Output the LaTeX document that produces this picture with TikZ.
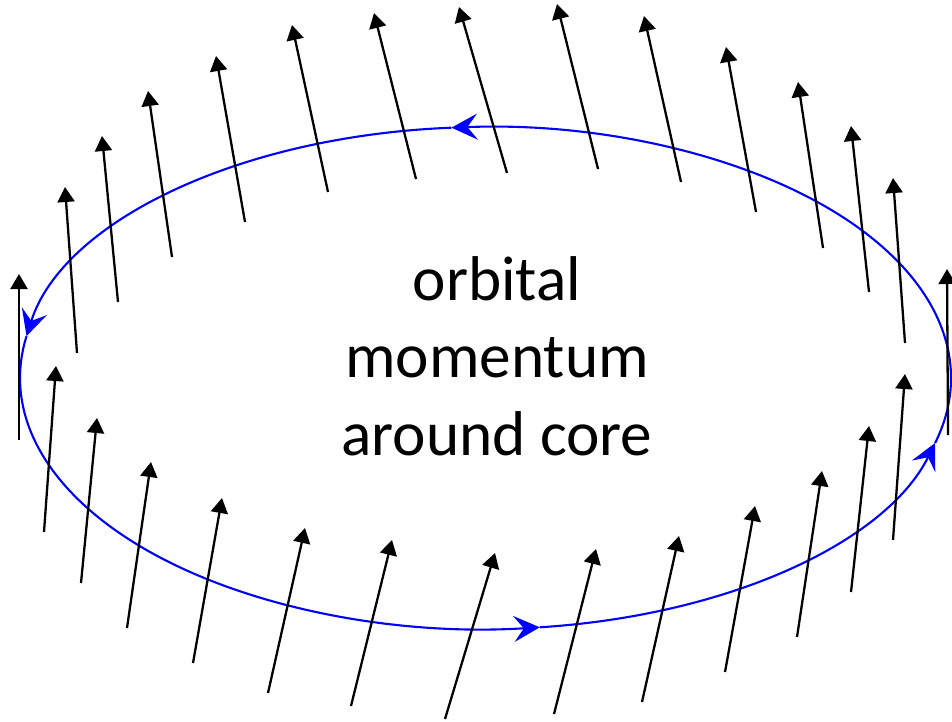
\documentclass[tikz,border=0pt]{standalone}
\usepackage{fontspec}
\setmainfont{Carlito}
\usetikzlibrary{arrows.meta}
\tikzset{
  spin/.style={-{Triangle[length=0.3cm,width=0.34cm]},line width=1.3pt,color=black},
  orbit/.style={-{Stealth[length=0.52cm,width=0.52cm,inset=0.2cm]},line width=1.2pt,color=blue},
  lbl/.style={font=\fontsize{36}{44}\selectfont,align=center,inner sep=0pt},
}
\begin{document}
\begin{tikzpicture}[x=0.02cm,y=-0.02cm]
\useasboundingbox (0,0) rectangle (952,721);
\coordinate (core) at (485.5,378);
\draw[orbit] (core) ++(15:465.5 and 251) arc[start angle=15,end angle=-94.2,x radius=465.5,y radius=251];
\draw[orbit] (core) ++(-94.2:465.5 and 251) arc[start angle=-94.2,end angle=-170.4,x radius=465.5,y radius=251];
\draw[orbit] (core) ++(-170.4:465.5 and 251) arc[start angle=-170.4,end angle=-276.7,x radius=465.5,y radius=251];
\draw[orbit] (core) ++(-276.7:465.5 and 251) arc[start angle=-276.7,end angle=-345,x radius=465.5,y radius=251];
\foreach \tx/\ty/\hx/\hy in {19/440/19/274,77/353/65/187,118/302/102/136,172/257/148/91,245/222/216/56,
  328/192/292/25,416/179/374/13,507/173/459/7,598/169/557/4,681/182/644/16,756/212/726/47,
  823/248/798/82,869/292/851/126,905/343/893/178,948/435/947/269,893/540/905/374,851/592/869/426,
  797/637/822/471,725/672/755/506,642/702/679/536,554/714/596/549,445/719/495/553,351/706/392/540,
  268/693/305/528,193/663/222/498,127/628/151/462,81/583/97/418,44/532/56/366}
  \draw[spin] (\tx,\ty) -- (\hx,\hy);
\node[lbl] (label) at (497,356) {orbital\\momentum\\around core};
\end{tikzpicture}
\end{document}
